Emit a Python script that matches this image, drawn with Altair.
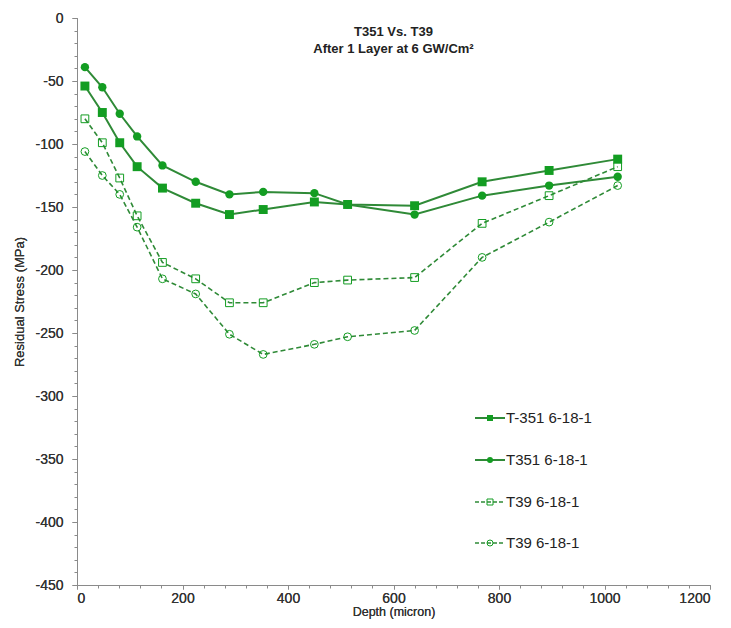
import altair as alt
import pandas as pd

# Depth of each measurement (micron)
depth = [15, 48, 81, 114, 162, 225, 289, 353, 450, 513, 640, 768, 895, 1025]

# Residual stress (MPa) per specimen
t351_a = [-54, -75, -99, -118, -135, -147, -156, -152, -146, -148, -149, -130, -121, -112]
t351_b = [-39, -55, -76, -94, -117, -130, -140, -138, -139, -148, -156, -141, -133, -126]
t39_a = [-80, -99, -127, -157, -194, -207, -226, -226, -210, -208, -206, -163, -141, -118]
t39_b = [-106, -125, -140, -166, -207, -219, -251, -267, -259, -253, -248, -190, -162, -133]

labels = ["T-351 6-18-1", "T351 6-18-1", "T39 6-18-1", "T39 6-18-1"]
title_lines = ["T351 Vs. T39", "After 1 Layer at 6 GW/Cm\u00b2"]

x_ticks = list(range(0, 1201, 200))
x_minor = list(range(0, 1201, 40))
y_ticks = list(range(-450, 1, 50))
y_minor = list(range(-450, 1, 10))

FONT = "Liberation Sans"
LINE = "#2f8a37"
MARK = "#139d22"
W, H = 633, 567

x_scale = alt.Scale(domain=[0, 1200], nice=False)
y_scale = alt.Scale(domain=[-450, 0], nice=False)

# plain integers with an ASCII hyphen for negatives, no thousands separator
plain = "'' + datum.value"

x_axis = alt.Axis(values=x_ticks, title="Depth (micron)", orient="bottom", labelExpr=plain,
                  tickSize=4, labelFontSize=14, titleFontSize=12.5,
                  titleFontWeight="normal", titlePadding=0, labelPadding=2,
                  grid=False, domainColor="#8a8a8a", tickColor="#8a8a8a",
                  labelColor="#333333", titleColor="#333333", labelFont=FONT, titleFont=FONT)
y_axis = alt.Axis(values=y_ticks, title="Residual Stress (MPa)", orient="left", labelExpr=plain,
                  tickSize=5, labelFontSize=14, titleFontSize=13,
                  titleFontWeight="normal", titlePadding=8, labelPadding=9,
                  grid=False, domainColor="#8a8a8a", tickColor="#8a8a8a",
                  labelColor="#333333", titleColor="#333333", labelFont=FONT, titleFont=FONT)

series = [
    (t351_a, "square", True, []),
    (t351_b, "circle", True, []),
    (t39_a, "square", False, [5, 3]),
    (t39_b, "circle", False, [5, 3]),
]

layers = []
for i, (vals, shape, filled, dash) in enumerate(series):
    df = pd.DataFrame({"depth": depth, "stress": vals})
    base = alt.Chart(df)
    ax = x_axis if i == 0 else None
    ay = y_axis if i == 0 else None
    enc_x = alt.X("depth:Q", scale=x_scale, axis=ax)
    enc_y = alt.Y("stress:Q", scale=y_scale, axis=ay)
    line_kw = dict(color=LINE, strokeWidth=2 if filled else 1.6)
    if dash:
        line_kw["strokeDash"] = dash
    layers.append(base.mark_line(**line_kw).encode(x=enc_x, y=enc_y))
    if filled:
        pt = base.mark_point(shape=shape, filled=True, color=MARK, opacity=1,
                             size=80 if shape == "square" else 70)
    else:
        pt = base.mark_point(shape=shape, filled=False, color=MARK, strokeWidth=1,
                             opacity=1, size=60)
    layers.append(pt.encode(x=enc_x, y=enc_y))

# minor tick axes
minor_df = pd.DataFrame({"v": [0]})
layers.append(
    alt.Chart(minor_df).mark_point(opacity=0).encode(
        x=alt.X("v:Q", scale=x_scale,
                axis=alt.Axis(values=x_minor, orient="bottom", labels=False, title=None,
                              tickSize=3, domain=False, grid=False, tickColor="#8a8a8a")),
        y=alt.Y("v:Q", scale=y_scale,
                axis=alt.Axis(values=y_minor, orient="left", labels=False, title=None,
                              tickSize=3, domain=False, grid=False, tickColor="#8a8a8a")),
    )
)

# title
for k, t in enumerate(title_lines):
    layers.append(
        alt.Chart(minor_df).mark_text(text=t, font=FONT, fontSize=13, fontWeight="bold",
                                      color="#222222", align="center", baseline="middle")
        .encode(x=alt.value(W / 2), y=alt.value(14 + 17 * k))
    )

# legend
leg_y = [400, 442, 484, 525]
for k, (lab, (vals, shape, filled, dash)) in enumerate(zip(labels, series)):
    rule_kw = dict(color=LINE, strokeWidth=2 if filled else 1.6)
    if dash:
        rule_kw["strokeDash"] = [4, 2]
    layers.append(
        alt.Chart(minor_df).mark_rule(**rule_kw)
        .encode(x=alt.value(398), x2=alt.value(428), y=alt.value(leg_y[k]))
    )
    layers.append(
        alt.Chart(minor_df).mark_point(shape=shape, filled=filled, color=MARK, opacity=1,
                                       strokeWidth=1, size=36)
        .encode(x=alt.value(413), y=alt.value(leg_y[k]))
    )
    layers.append(
        alt.Chart(minor_df).mark_text(text=lab, font=FONT, fontSize=15, color="#222222",
                                      align="left", baseline="middle")
        .encode(x=alt.value(429), y=alt.value(leg_y[k]))
    )

chart = (
    alt.layer(*layers)
    .resolve_axis(x="independent", y="independent")
    .properties(width=W, height=H, autosize=alt.AutoSizeParams(type="none"),
                padding={"left": 77, "top": 18, "right": 21, "bottom": 43},
                background="white")
    .configure_view(stroke=None)
)

chart.save("out.html", embed_options={"renderer": "svg", "actions": False})
